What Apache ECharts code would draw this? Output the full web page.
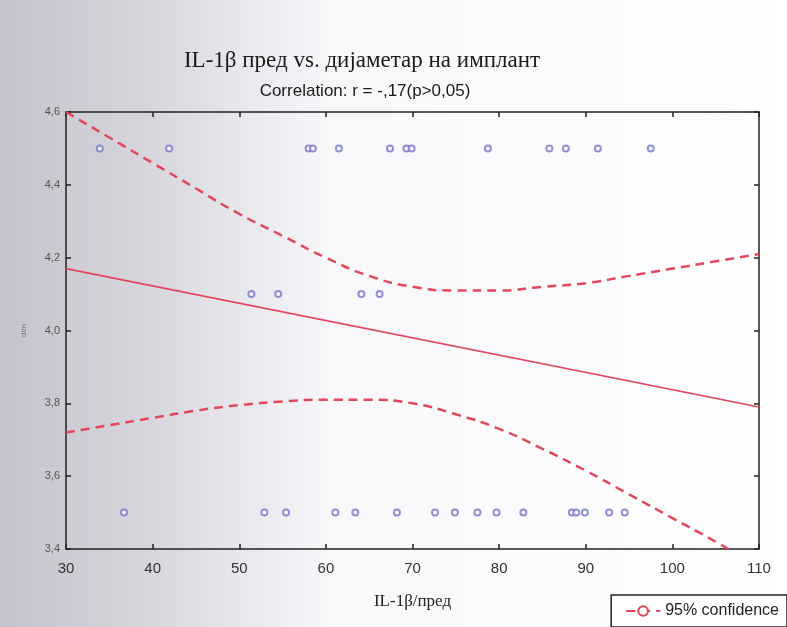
<!DOCTYPE html>
<html>
<head>
<meta charset="utf-8">
<script src="https://cdn.jsdelivr.net/npm/echarts@6/dist/echarts.min.js"></script>
<style>
  html, body { margin: 0; padding: 0; background: #fff; }
  #main { width: 787px; height: 627px; }
</style>
</head>
<body>
<div id="main"></div>
<script>
// observed points, grouped by implant diameter
const topRowX = [33.9, 41.9, 58, 58.5, 61.5, 67.4, 69.3, 69.9, 78.7, 85.8, 87.7, 91.4, 97.5];
const midRowX = [51.4, 54.5, 64.1, 66.2];
const lowRowX = [36.7, 52.9, 55.4, 61.1, 63.4, 68.2, 72.6, 74.9, 77.5, 79.7, 82.8, 88.4, 88.9, 89.9, 92.7, 94.5];
const topRowY = 4.5;
const midRowY = 4.1;
const lowRowY = 3.5;

// fitted line and 95% band
const fitX = [30, 110];
const fitY = [4.17, 3.79];
const bandX = [30, 35, 40, 45, 50, 55, 60, 65, 70, 75, 80, 85, 90, 95, 100, 105, 110];
const upperBand = [4.60, 4.53, 4.46, 4.39, 4.32, 4.26, 4.20, 4.15, 4.12, 4.11, 4.11, 4.12, 4.13, 4.15, 4.17, 4.19, 4.21];
const lowerBand = [3.72, 3.74, 3.76, 3.78, 3.795, 3.805, 3.81, 3.81, 3.80, 3.77, 3.73, 3.675, 3.615, 3.55, 3.485, 3.42, 3.35];

const xTicks = [30, 40, 50, 60, 70, 80, 90, 100, 110];
const yTicks = [3.4, 3.6, 3.8, 4.0, 4.2, 4.4, 4.6];

const pts = [];
topRowX.forEach(x => pts.push([x, topRowY]));
midRowX.forEach(x => pts.push([x, midRowY]));
lowRowX.forEach(x => pts.push([x, lowRowY]));

const zip = (a, b) => a.map((v, i) => [v, b[i]]);
const red = '#e2475c';

const baseX = {
  type: 'value',
  min: xTicks[0],
  max: xTicks[xTicks.length - 1],
  interval: 10,
  splitLine: { show: false },
  axisLine: { lineStyle: { color: '#222', width: 1.5 } },
  axisTick: { inside: true, length: 5, lineStyle: { color: '#222', width: 1.5 } }
};
const baseY = {
  type: 'value',
  min: yTicks[0],
  max: yTicks[yTicks.length - 1],
  interval: 0.2,
  splitLine: { show: false },
  axisLine: { show: true, lineStyle: { color: '#222', width: 1.5 } },
  axisTick: { show: true, inside: true, length: 5, lineStyle: { color: '#222', width: 1.5 } }
};

const chart = echarts.init(document.getElementById('main'));
chart.setOption({
  backgroundColor: new echarts.graphic.LinearGradient(0, 0, 1, 0, [
    { offset: 0, color: '#c4c3cc' },
    { offset: 0.2, color: '#d8d7de' },
    { offset: 0.42, color: '#f8f8fb' },
    { offset: 1, color: '#ffffff' }
  ]),
  animation: false,
  title: [
    {
      text: 'IL-1β пред vs. дијаметар на имплант',
      left: 357, top: 44, textAlign: 'center',
      textStyle: { fontFamily: 'Liberation Serif', fontSize: 23, fontWeight: 'normal', color: '#1a1a1a' }
    },
    {
      text: 'Correlation: r = -,17(p>0,05)',
      left: 360, top: 78, textAlign: 'center',
      textStyle: { fontFamily: 'Liberation Sans', fontSize: 17, fontWeight: 'normal', color: '#1a1a1a' }
    }
  ],
  grid: { left: 66, right: 28, top: 112, bottom: 78 },
  legend: {
    data: ['95% confidence'],
    right: 0, bottom: 0,
    borderColor: '#222', borderWidth: 1.5,
    padding: [8, 8, 8, 14],
    itemWidth: 34, itemHeight: 12,
    backgroundColor: '#fff',
    textStyle: { fontFamily: 'Liberation Sans', fontSize: 16, color: '#222' }
  },
  xAxis: [
    Object.assign({}, baseX, {
      position: 'bottom',
      name: 'IL-1β/пред', nameLocation: 'middle', nameGap: 44,
      nameTextStyle: { fontFamily: 'Liberation Serif', fontSize: 17, color: '#222' },
      axisLabel: { fontFamily: 'Liberation Sans', fontSize: 15, color: '#333', margin: 12 }
    }),
    Object.assign({}, baseX, { position: 'top', axisLabel: { show: false } })
  ],
  yAxis: [
    Object.assign({}, baseY, {
      position: 'left',
      name: 'dim', nameLocation: 'middle', nameGap: 38, nameRotate: 90,
      nameTextStyle: { fontFamily: 'Liberation Sans', fontSize: 8, color: '#778' },
      axisLabel: {
        fontFamily: 'Liberation Sans', fontSize: 11, color: '#555', margin: 6,
        formatter: v => v.toFixed(1).replace('.', ',')
      }
    }),
    Object.assign({}, baseY, { position: 'right', axisLabel: { show: false } })
  ],
  series: [
    {
      type: 'scatter',
      name: 'points',
      data: pts,
      symbol: 'emptyCircle',
      symbolSize: 6,
      itemStyle: { color: '#7474cc', borderColor: '#7474cc', borderWidth: 1 }
    },
    {
      type: 'line',
      name: 'fit',
      data: zip(fitX, fitY),
      showSymbol: false,
      lineStyle: { color: red, width: 1.6 }
    },
    {
      type: 'line',
      name: '95% confidence',
      data: zip(bandX, upperBand),
      smooth: true,
      showSymbol: false,
      symbol: 'emptyCircle',
      itemStyle: { color: red },
      lineStyle: { color: red, width: 2.5, type: [9, 6] }
    },
    {
      type: 'line',
      name: 'lower',
      data: zip(bandX, lowerBand),
      smooth: true,
      showSymbol: false,
      lineStyle: { color: red, width: 2.5, type: [9, 6] }
    }
  ]
});
</script>
</body>
</html>
